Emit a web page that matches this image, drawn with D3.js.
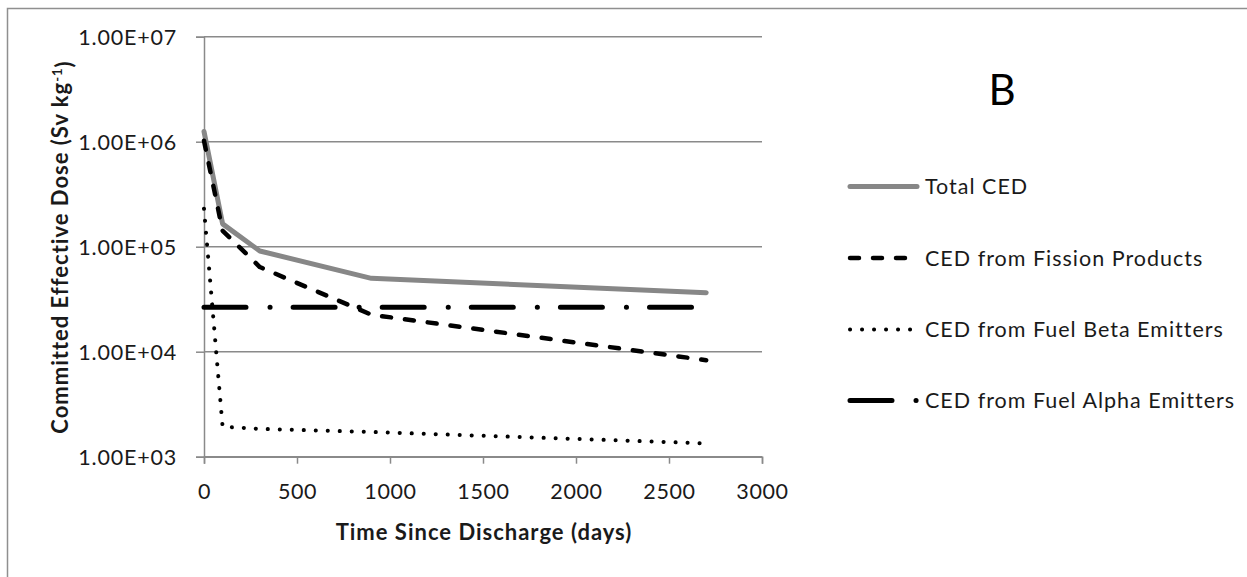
<!DOCTYPE html>
<html>
<head>
<meta charset="utf-8">
<script src="https://cdn.jsdelivr.net/npm/d3@7"></script>
<style>
  html, body { margin: 0; padding: 0; background: #fff; }
  svg { display: block; }
</style>
</head>
<body>
<svg id="chart" width="1247" height="577"></svg>
<script>
// ---- data ----
const days = [0, 100, 300, 900, 2700];
const totalCED   = [1.25e6, 1.65e5, 9.1e4, 5.0e4, 3.65e4];
const fissionCED = [1.02e6, 1.42e5, 6.4e4, 2.25e4, 8.3e3];
const betaCED    = [2.3e5, 1.93e3, 1.84e3, 1.72e3, 1.34e3];
const alphaCED   = [2.65e4, 2.65e4, 2.65e4, 2.65e4, 2.65e4];
const seriesNames = ["Total CED", "CED from Fission Products", "CED from Fuel Beta Emitters", "CED from Fuel Alpha Emitters"];
const xTicks = [0, 500, 1000, 1500, 2000, 2500, 3000];
const yTicks = [1e3, 1e4, 1e5, 1e6, 1e7];
const yTickLabels = ["1.00E+03", "1.00E+04", "1.00E+05", "1.00E+06", "1.00E+07"];

// ---- styles ----
const styles = [
  { color: "#878787", width: 5, dash: null, cap: "round" },
  { color: "#000", width: 4.5, dash: "9,14", cap: "round" },
  { color: "#000", width: 4, dash: "0.1,11.9", cap: "round" },
  { color: "#000", width: 5, dash: "42,24,0.1,23", cap: "round" }
];
const seriesVals = [totalCED, fissionCED, betaCED, alphaCED];

const svg = d3.select("#chart");
const gridColor = "#8a8a8a";
const textColor = "#1a1a1a";
const fontFam = "Lato";

// outer frame
svg.append("rect").attr("x", 7.5).attr("y", 8.5).attr("width", 1270).attr("height", 620)
  .attr("fill", "none").attr("stroke", "#8f8f8f").attr("stroke-width", 1.5);

const plotL = 204, plotR = 762, plotT = 36.7, plotB = 456.7;
const x = d3.scaleLinear().domain([0, 3000]).range([plotL, plotR]);
const y = d3.scaleLog().domain([1e3, 1e7]).range([plotB, plotT]);

// gridlines
svg.append("g").selectAll("line").data(yTicks).join("line")
  .attr("x1", plotL).attr("x2", plotR)
  .attr("y1", d => y(d)).attr("y2", d => y(d))
  .attr("stroke", gridColor).attr("stroke-width", 1.5);

// y axis
const yAxis = svg.append("g").attr("transform", `translate(${plotL},0)`)
  .call(d3.axisLeft(y).tickValues(yTicks).tickFormat((d, i) => yTickLabels[i]).tickSize(8).tickPadding(19));
yAxis.select(".domain").attr("stroke", gridColor).attr("stroke-width", 1.5);
yAxis.selectAll(".tick line").attr("stroke", gridColor).attr("stroke-width", 1.5);
yAxis.selectAll(".tick text").attr("fill", textColor).style("font-family", fontFam)
  .style("font-size", "21.5px").style("letter-spacing", "0.8px").attr("dy", "0.36em");

// x axis
const xAxis = svg.append("g").attr("transform", `translate(0,${plotB})`)
  .call(d3.axisBottom(x).tickValues(xTicks).tickFormat(d3.format("d")).tickSize(7).tickPadding(10));
xAxis.select(".domain").attr("stroke", gridColor).attr("stroke-width", 1.5);
xAxis.selectAll(".tick line").attr("stroke", gridColor).attr("stroke-width", 1.5);
xAxis.selectAll(".tick text").attr("fill", textColor).style("font-family", fontFam)
  .style("font-size", "21.5px").style("letter-spacing", "0.6px").attr("y", 35).attr("dy", "0.36em");

// lines
const line = d3.line().x((d, i) => x(days[i])).y(d => y(d));
seriesVals.forEach((vals, k) => {
  const s = styles[k];
  svg.append("path").datum(vals)
    .attr("d", line)
    .attr("fill", "none")
    .attr("stroke", s.color)
    .attr("stroke-width", s.width)
    .attr("stroke-linecap", s.cap)
    .attr("stroke-linejoin", "round")
    .attr("stroke-dasharray", s.dash);
});

// axis titles
svg.append("text").attr("x", 484).attr("y", 532).attr("dy", "0.35em")
  .attr("text-anchor", "middle").attr("fill", textColor)
  .style("font-family", fontFam).style("font-weight", "bold").style("font-size", "22px")
  .style("letter-spacing", "1px")
  .text("Time Since Discharge  (days)");

const yt = svg.append("text").attr("transform", "translate(60,247) rotate(-90)")
  .attr("text-anchor", "middle").attr("dy", "0.35em").attr("fill", textColor)
  .style("font-family", fontFam).style("font-weight", "bold").style("font-size", "22px")
  .style("letter-spacing", "1px");
yt.append("tspan").text("Committed Effective Dose  (Sv kg");
yt.append("tspan").attr("dy", "-0.45em").style("font-size", "13px").text("-1");
yt.append("tspan").attr("dy", "0.45em").text(")");

// panel label
svg.append("text").attr("x", 1002).attr("y", 90).attr("dy", "0.36em")
  .attr("text-anchor", "middle").attr("fill", "#000")
  .style("font-family", fontFam).style("font-size", "42px").text("B");

// legend
const legY = [186.5, 258, 329.5, 400.5];
const lg = svg.append("g");
seriesNames.forEach((name, k) => {
  const s = styles[k];
  lg.append("line").attr("x1", 850).attr("x2", k === 0 ? 917 : 918)
    .attr("y1", legY[k]).attr("y2", legY[k])
    .attr("stroke", s.color).attr("stroke-width", s.width)
    .attr("stroke-linecap", s.cap).attr("stroke-dasharray", s.dash);
  lg.append("text").attr("x", 925).attr("y", legY[k]).attr("dy", "0.36em")
    .attr("fill", textColor).style("font-family", fontFam).style("font-size", "21.5px")
    .style("letter-spacing", "1px")
    .text(name);
});
</script>
</body>
</html>
